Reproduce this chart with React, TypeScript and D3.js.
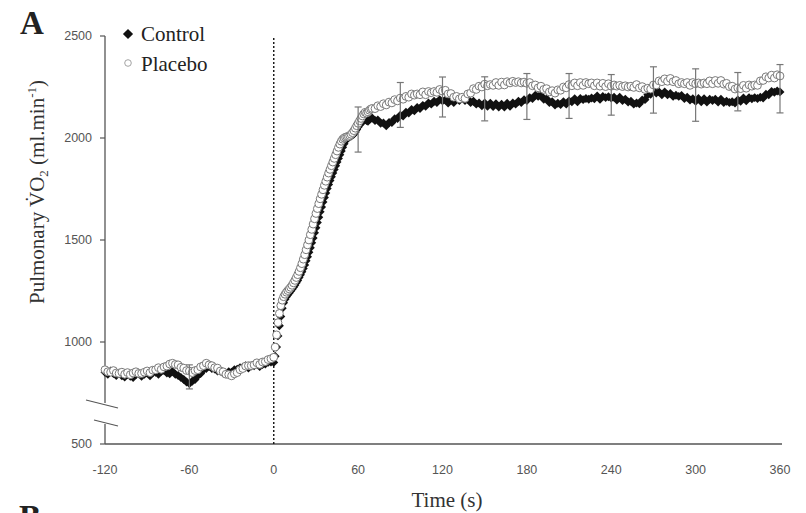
import React from "react";
import * as d3 from "d3";

const W = 806, H = 513;

// sampling: 2 s at baseline and plateau, 1 s through the on-transient
const baseTimes = d3.range(-120, 0, 2);
const riseTimes = d3.range(0, 70, 1);
const plateauTimes = d3.range(70, 361, 2);
const times = [...baseTimes, ...riseTimes, ...plateauTimes];

const controlBase = [
  852, 842, 858, 846, 836, 848, 834, 828, 842, 832,
  826, 840, 844, 832, 842, 848, 834, 850, 852, 842,
  856, 860, 848, 844, 856, 842, 836, 826, 816, 804,
  796, 808, 816, 834, 846, 864, 870, 880, 870, 868,
  858, 858, 848, 844, 854, 852, 864, 866, 874, 876,
  884, 872, 882, 884, 892, 880, 890, 892, 900, 902,
];
const placeboBase = [
  864, 854, 852, 860, 848, 846, 852, 842, 850, 840,
  848, 854, 846, 846, 852, 858, 850, 862, 864, 874,
  866, 878, 882, 892, 896, 890, 888, 876, 872, 860,
  858, 850, 860, 864, 878, 884, 896, 888, 884, 874,
  872, 858, 854, 842, 840, 834, 844, 850, 864, 870,
  882, 884, 884, 888, 898, 890, 902, 904, 914, 918,
];
const controlRise = [
  900, 930, 975, 1030, 1080, 1125, 1165, 1192, 1210, 1222,
  1232, 1240, 1250, 1258, 1268, 1278, 1290, 1302, 1316, 1330,
  1344, 1360, 1378, 1398, 1418, 1440, 1462, 1486, 1510, 1535,
  1560, 1586, 1612, 1638, 1662, 1686, 1708, 1730, 1752, 1772,
  1792, 1810, 1828, 1846, 1864, 1882, 1900, 1918, 1936, 1955,
  1972, 1986, 1996, 2002, 2006, 2010, 2014, 2020, 2030, 2042,
  2054, 2064, 2072, 2080, 2086, 2090, 2086, 2082, 2090, 2098,
];
const placeboRise = [
  925, 975, 1035, 1095, 1140, 1178, 1205, 1222, 1234, 1244,
  1252, 1260, 1268, 1278, 1290, 1302, 1316, 1330, 1346, 1364,
  1384, 1406, 1428, 1452, 1476, 1500, 1526, 1552, 1578, 1604,
  1630, 1654, 1678, 1702, 1724, 1746, 1768, 1788, 1808, 1828,
  1846, 1864, 1882, 1900, 1918, 1936, 1954, 1970, 1984, 1994,
  2000, 2004, 2006, 2008, 2012, 2018, 2026, 2036, 2048, 2060,
  2072, 2084, 2096, 2108, 2118, 2126, 2122, 2128, 2136, 2142,
];
const controlPlateau = [
  2098, 2086, 2088, 2072, 2074, 2060, 2076, 2076, 2094, 2096,
  2112, 2108, 2126, 2122, 2140, 2134, 2150, 2144, 2160, 2156,
  2172, 2166, 2180, 2174, 2188, 2182, 2186, 2172, 2188, 2174,
  2190, 2184, 2198, 2184, 2190, 2174, 2180, 2166, 2172, 2158,
  2172, 2156, 2170, 2154, 2168, 2152, 2166, 2152, 2170, 2156,
  2172, 2166, 2180, 2174, 2188, 2184, 2198, 2194, 2210, 2204,
  2208, 2190, 2192, 2174, 2178, 2162, 2170, 2164, 2178, 2166,
  2182, 2178, 2192, 2178, 2194, 2188, 2194, 2190, 2196, 2192,
  2206, 2190, 2204, 2198, 2202, 2196, 2200, 2186, 2200, 2184,
  2190, 2176, 2180, 2166, 2172, 2168, 2186, 2188, 2212, 2214,
  2232, 2220, 2226, 2212, 2226, 2212, 2218, 2204, 2210, 2204,
  2208, 2194, 2200, 2186, 2192, 2180, 2194, 2178, 2192, 2176,
  2190, 2184, 2190, 2176, 2190, 2174, 2180, 2174, 2178, 2172,
  2186, 2180, 2196, 2182, 2198, 2192, 2198, 2194, 2200, 2196,
  2214, 2212, 2228, 2224, 2230, 2226,
];
const placeboPlateau = [
  2145, 2144, 2158, 2154, 2168, 2162, 2176, 2172, 2188, 2182,
  2196, 2190, 2204, 2200, 2216, 2210, 2216, 2212, 2226, 2212,
  2228, 2222, 2228, 2224, 2238, 2230, 2234, 2216, 2218, 2200,
  2204, 2192, 2200, 2194, 2216, 2220, 2242, 2238, 2254, 2250,
  2264, 2256, 2262, 2258, 2272, 2258, 2274, 2260, 2276, 2270,
  2278, 2272, 2276, 2270, 2274, 2268, 2272, 2256, 2260, 2246,
  2254, 2238, 2242, 2226, 2232, 2220, 2236, 2234, 2250, 2246,
  2262, 2256, 2270, 2256, 2272, 2258, 2272, 2266, 2270, 2256,
  2270, 2254, 2268, 2252, 2266, 2254, 2260, 2254, 2258, 2252,
  2256, 2250, 2254, 2248, 2262, 2246, 2252, 2238, 2244, 2240,
  2260, 2260, 2280, 2276, 2290, 2278, 2292, 2276, 2282, 2266,
  2272, 2266, 2272, 2258, 2272, 2266, 2270, 2264, 2270, 2266,
  2280, 2266, 2282, 2268, 2282, 2264, 2268, 2252, 2254, 2240,
  2246, 2242, 2258, 2244, 2260, 2254, 2260, 2258, 2280, 2282,
  2300, 2294, 2308, 2294, 2310, 2304,
];
const control = [...controlBase, ...controlRise, ...controlPlateau];
const placebo = [...placeboBase, ...placeboRise, ...placeboPlateau];

// SD bars: placebo drawn upward, control downward
const errTimes = [-60, 60, 90, 120, 150, 180, 210, 240, 270, 300, 330, 360];
const placeboSD = [30, 80, 76, 69, 36, 48, 54, 57, 89, 73, 75, 56];
const controlSD = [26, 123, 60, 79, 88, 93, 86, 84, 110, 98, 53, 103];

const yTicks = [500, 1000, 1500, 2000, 2500];
const xTicks = [-120, -60, 0, 60, 120, 180, 240, 300, 360];

const serif = "'Liberation Serif', 'Times New Roman', serif";
const sans = "'Liberation Sans', Arial, sans-serif";

export default function App() {
  const x = d3.scaleLinear().domain([-120, 360]).range([105, 780]);
  const y = d3.scaleLinear().domain([500, 2500]).range([444, 36]);

  const diamond = d3.symbol(d3.symbolSquare, 40)()!;
  const legendDiamond = d3.symbol(d3.symbolSquare, 52)()!;

  const controlBy = new Map(times.map((t, i) => [t, control[i]]));
  const placeboBy = new Map(times.map((t, i) => [t, placebo[i]]));

  const x0 = x(-120);
  const breakTop = 403, breakBot = 424;

  return (
    <svg width={W} height={H} style={{ position: "absolute", left: 0, top: 0, background: "#fff" }}>
      {/* panel letters */}
      <text x={20} y={34} fontFamily={serif} fontWeight="bold" fontSize={33} fill="#222">A</text>
      <text x={19} y={528} fontFamily={serif} fontWeight="bold" fontSize={33} fill="#222">B</text>

      {/* y axis with break */}
      <line x1={x0} x2={x0} y1={y(2500)} y2={breakTop} stroke="#555" strokeWidth={1.3} />
      <line x1={x0} x2={x0} y1={breakBot} y2={y(500)} stroke="#555" strokeWidth={1.3} />
      <line x1={86} x2={118} y1={breakTop - 3} y2={breakTop + 5} stroke="#555" strokeWidth={1.2} />
      <line x1={94} x2={118} y1={breakBot - 4} y2={breakBot + 2} stroke="#555" strokeWidth={1.2} />
      {yTicks.map((v) => (
        <g key={v}>
          <line x1={x0 - 5} x2={x0} y1={y(v)} y2={y(v)} stroke="#555" strokeWidth={1.2} />
          <text x={92} y={y(v) + 4} textAnchor="end" fontFamily={sans} fontSize={12.5} fill="#555">{v}</text>
        </g>
      ))}

      {/* x axis */}
      <line x1={x0} x2={x(360) + 2} y1={y(500)} y2={y(500)} stroke="#555" strokeWidth={1.4} />
      {xTicks.map((t) => (
        <text key={t} x={x(t)} y={474} textAnchor="middle" fontFamily={sans} fontSize={12.5} fill="#555">{t}</text>
      ))}

      {/* exercise onset */}
      <line x1={x(0)} x2={x(0)} y1={38} y2={y(500)} stroke="#111" strokeWidth={1.4} strokeDasharray="2,2" />

      {/* control */}
      {times.map((t, i) => (
        <path key={"c" + t} d={diamond} transform={`translate(${x(t)},${y(control[i])}) rotate(45)`} fill="#111" />
      ))}
      {/* placebo */}
      {times.map((t, i) => (
        <circle key={"p" + t} cx={x(t)} cy={y(placebo[i])} r={3.9} fill="#fff" stroke="#7a7a7a" strokeWidth={1} />
      ))}

      {/* error bars */}
      {errTimes.map((t, i) => {
        const top = placeboBy.get(t)! + placeboSD[i];
        const bot = controlBy.get(t)! - controlSD[i];
        const cx = x(t);
        return (
          <g key={"e" + t} stroke="#777" strokeWidth={1.2}>
            <line x1={cx} x2={cx} y1={y(top)} y2={y(bot)} />
            <line x1={cx - 3.5} x2={cx + 3.5} y1={y(top)} y2={y(top)} />
            <line x1={cx - 3.5} x2={cx + 3.5} y1={y(bot)} y2={y(bot)} />
          </g>
        );
      })}

      {/* legend */}
      <path d={legendDiamond} transform="translate(128,34) rotate(45)" fill="#111" />
      <text x={141} y={41} fontFamily={serif} fontSize={21} fill="#222">Control</text>
      <circle cx={128} cy={63} r={3.3} fill="#fff" stroke="#999" strokeWidth={0.9} />
      <text x={141} y={71} fontFamily={serif} fontSize={21} fill="#222">Placebo</text>

      {/* axis titles */}
      <text transform="translate(44,192) rotate(-90)" textAnchor="middle" fontFamily={serif} fontSize={21} fill="#333">
        <tspan fontSize={21}>Pulmonary V{"\u0307"}O</tspan>
        <tspan fontSize={13} dy={4}>2</tspan>
        <tspan fontSize={21} dy={-4}> (ml.min</tspan>
        <tspan fontSize={13} dy={-8}>-1</tspan>
        <tspan fontSize={21} dy={8}>)</tspan>
      </text>
      <text x={447} y={507} textAnchor="middle" fontFamily={serif} fontSize={21} fill="#333">Time (s)</text>
    </svg>
  );
}
